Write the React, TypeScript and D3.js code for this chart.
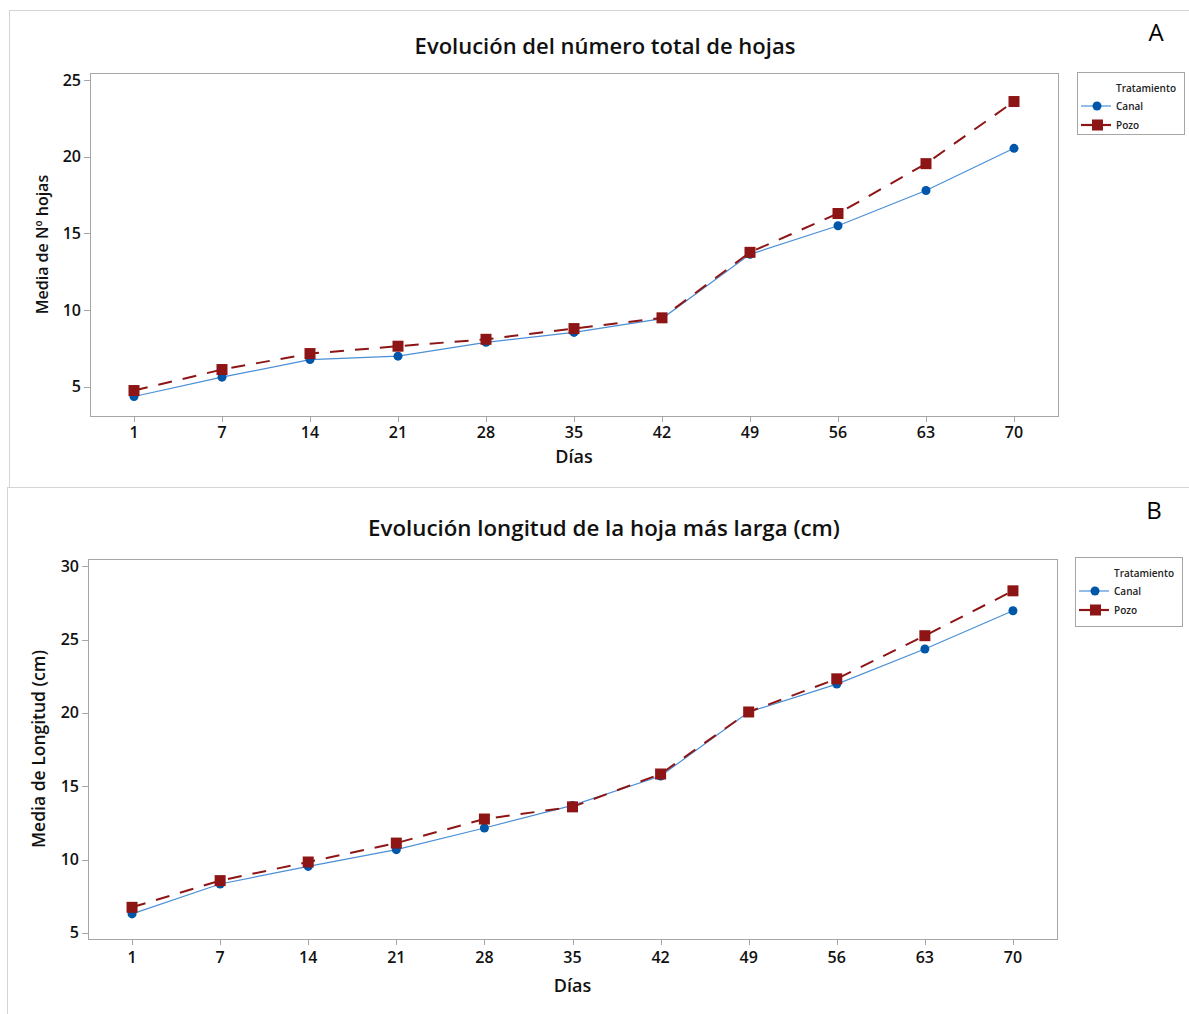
import React from "react";
import * as d3 from "d3";

const dias = ["1", "7", "14", "21", "28", "35", "42", "49", "56", "63", "70"];
const hojasCanal = [4.37, 5.63, 6.78, 7.0, 7.9, 8.55, 9.45, 13.64, 15.5, 17.8, 20.55];
const hojasPozo = [4.76, 6.13, 7.17, 7.65, 8.1, 8.8, 9.5, 13.77, 16.3, 19.55, 23.6];
const longCanal = [6.3, 8.34, 9.54, 10.68, 12.16, 13.7, 15.7, 20.07, 21.97, 24.36, 26.97];
const longPozo = [6.75, 8.57, 9.84, 11.13, 12.77, 13.6, 15.84, 20.07, 22.33, 25.27, 28.33];
const hojasTicks = [5, 10, 15, 20, 25];
const longTicks = [5, 10, 15, 20, 25, 30];

const FONT = "'Open Sans', 'Noto Sans', sans-serif";
const BLUE_LINE = "#4a8fd6";
const BLUE_MARK = "#0056a8";
const RED = "#8e1515";
const AXIS = "#a6a6a6";

type PanelProps = {
  top: number;
  title: string;
  letter: string;
  yLabel: string;
  canal: number[];
  pozo: number[];
  yTicks: number[];
  yDomain: [number, number];
  plot: { x0: number; x1: number; y0: number; y1: number };
  titleX: number;
  titleY: number;
  titleSize: number;
  yLabelX: number;
  yLabelSize: number;
  tickY: number;
  xLabelY: number;
  legend: { x: number; y: number; w: number; h: number };
  letterPos: [number, number];
  boxLeft: number;
};

function Panel(p: PanelProps) {
  const x = d3.scalePoint<string>().domain(dias).range([p.plot.x0, p.plot.x1]).padding(0.5);
  const y = d3.scaleLinear().domain(p.yDomain).range([p.plot.y1, p.plot.y0]);
  const line = d3
    .line<number>()
    .x((_, i) => x(dias[i]) as number)
    .y((d) => y(d));
  const cx = (p.plot.x0 + p.plot.x1) / 2;
  const cy = (p.plot.y0 + p.plot.y1) / 2;
  const lg = p.legend;
  return (
    <g>
      <rect x={p.boxLeft + 0.5} y={p.top + 0.5} width={1300} height={600} fill="white" stroke="#d4d4d4" strokeWidth={1} />
      <text x={p.letterPos[0]} y={p.letterPos[1]} fontFamily={FONT} fontSize={24} fill="#000" textAnchor="middle">
        {p.letter}
      </text>
      <text x={p.titleX} y={p.titleY} fontFamily={FONT} fontSize={p.titleSize} fontWeight={600} fill="#111" textAnchor="middle">
        {p.title}
      </text>
      <rect
        x={p.plot.x0 + 0.5}
        y={p.plot.y0 + 0.5}
        width={p.plot.x1 - p.plot.x0}
        height={p.plot.y1 - p.plot.y0}
        fill="white"
        stroke={AXIS}
        strokeWidth={1}
      />
      {p.yTicks.map((t) => (
        <g key={t}>
          <line x1={p.plot.x0 - 6} x2={p.plot.x0} y1={Math.round(y(t)) + 0.5} y2={Math.round(y(t)) + 0.5} stroke={AXIS} />
          <text x={p.plot.x0 - 9} y={y(t) + 5.5} fontFamily={FONT} fontSize={16} fontWeight={600} fill="#111" textAnchor="end">
            {t}
          </text>
        </g>
      ))}
      {dias.map((d) => (
        <g key={d}>
          <line x1={Math.round(x(d) as number) + 0.5} x2={Math.round(x(d) as number) + 0.5} y1={p.plot.y1} y2={p.plot.y1 + 6} stroke={AXIS} />
          <text x={x(d) as number} y={p.tickY} fontFamily={FONT} fontSize={16} fontWeight={600} fill="#111" textAnchor="middle">
            {d}
          </text>
        </g>
      ))}
      <text x={cx} y={p.xLabelY} fontFamily={FONT} fontSize={18} fontWeight={600} fill="#111" textAnchor="middle">
        Días
      </text>
      <text
        transform={`translate(${p.yLabelX},${cy}) rotate(-90)`}
        fontFamily={FONT}
        fontSize={p.yLabelSize}
        fontWeight={600}
        fill="#111"
        textAnchor="middle"
      >
        {p.yLabel}
      </text>
      <path d={line(p.canal) || ""} fill="none" stroke={BLUE_LINE} strokeWidth={1.2} />
      <path d={line(p.pozo) || ""} fill="none" stroke={RED} strokeWidth={2} strokeDasharray="14 11" />
      {p.canal.map((v, i) => (
        <circle key={"c" + i} cx={x(dias[i]) as number} cy={y(v)} r={4.5} fill={BLUE_MARK} />
      ))}
      {p.pozo.map((v, i) => (
        <rect key={"p" + i} x={(x(dias[i]) as number) - 5.5} y={y(v) - 5.5} width={11} height={11} fill={RED} />
      ))}
      <rect x={lg.x + 0.5} y={lg.y + 0.5} width={lg.w} height={lg.h} fill="white" stroke={AXIS} />
      <text x={lg.x + 39} y={lg.y + 20} fontFamily={FONT} fontSize={10} fontWeight={600} fill="#222">
        Tratamiento
      </text>
      <line x1={lg.x + 4} x2={lg.x + 34} y1={lg.y + 34} y2={lg.y + 34} stroke={BLUE_LINE} strokeWidth={1.2} />
      <circle cx={lg.x + 20} cy={lg.y + 34} r={4.5} fill={BLUE_MARK} />
      <text x={lg.x + 39} y={lg.y + 38} fontFamily={FONT} fontSize={10} fontWeight={600} fill="#222">
        Canal
      </text>
      <line x1={lg.x + 4} x2={lg.x + 34} y1={lg.y + 53} y2={lg.y + 53} stroke={RED} strokeWidth={2.2} />
      <rect x={lg.x + 15} y={lg.y + 47.5} width={11} height={11} fill={RED} />
      <text x={lg.x + 39} y={lg.y + 57} fontFamily={FONT} fontSize={10} fontWeight={600} fill="#222">
        Pozo
      </text>
    </g>
  );
}

export default function App() {
  return (
    <svg width={1189} height={1014} style={{ position: "absolute", left: 0, top: 0, background: "white" }}>
      <rect x={0} y={0} width={1189} height={1014} fill="white" />
      <Panel
        top={10}
        boxLeft={9}
        title="Evolución del número total de hojas"
        letter="A"
        yLabel="Media de Nº hojas"
        canal={hojasCanal}
        pozo={hojasPozo}
        yTicks={hojasTicks}
        yDomain={[3.1, 25.46]}
        plot={{ x0: 90, x1: 1058, y0: 73, y1: 416 }}
        titleX={605}
        titleY={54}
        titleSize={22}
        yLabelX={48}
        yLabelSize={16}
        tickY={438}
        xLabelY={463}
        legend={{ x: 1077, y: 72, w: 107, h: 62 }}
        letterPos={[1156, 41]}
      />
      <Panel
        top={487}
        boxLeft={7}
        title="Evolución longitud de la hoja más larga (cm)"
        letter="B"
        yLabel="Media de Longitud (cm)"
        canal={longCanal}
        pozo={longPozo}
        yTicks={longTicks}
        yDomain={[4.59, 30.5]}
        plot={{ x0: 88, x1: 1057, y0: 559, y1: 939 }}
        titleX={604}
        titleY={536}
        titleSize={22.3}
        yLabelX={45}
        yLabelSize={17.5}
        tickY={963}
        xLabelY={992}
        legend={{ x: 1075, y: 557, w: 107, h: 69 }}
        letterPos={[1154, 519]}
      />
    </svg>
  );
}
